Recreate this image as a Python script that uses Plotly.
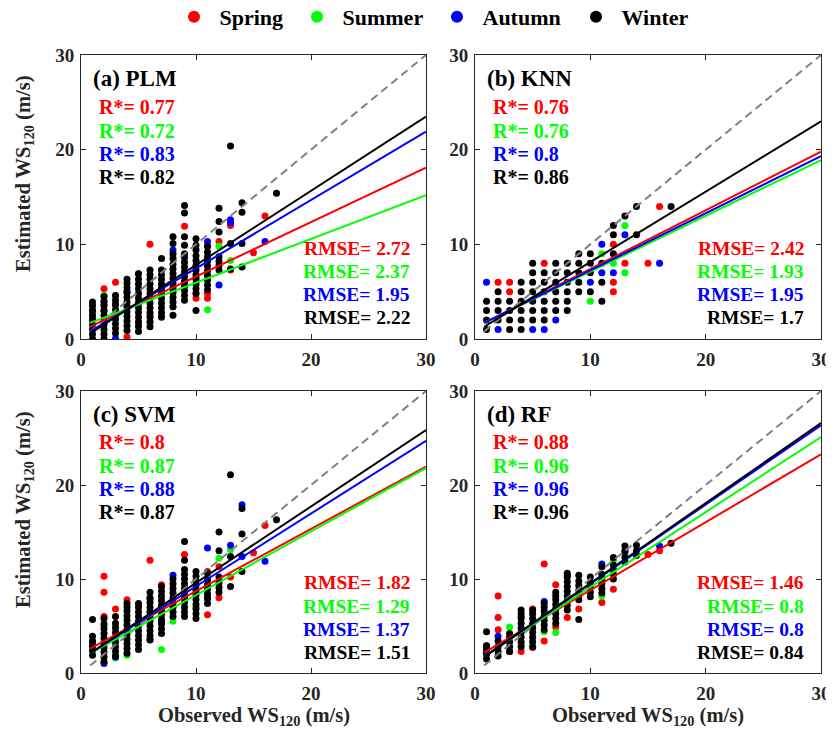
import plotly.graph_objects as go

# ---------------- data ----------------
seasons = ["Spring", "Summer", "Autumn", "Winter"]
season_colors = ["#ff0000", "#00ff00", "#0000ff", "#000000"]
panel_titles = ["(a) PLM", "(b) KNN", "(c) SVM", "(d) RF"]

r_values = [[0.77, 0.72, 0.83, 0.82],
            [0.76, 0.76, 0.8, 0.86],
            [0.8, 0.87, 0.88, 0.87],
            [0.88, 0.96, 0.96, 0.96]]
rmse_values = [[2.72, 2.37, 1.95, 2.22],
               [2.42, 1.93, 1.95, 1.7],
               [1.82, 1.29, 1.37, 1.51],
               [1.46, 0.8, 0.8, 0.84]]

# regression lines (slope, intercept) per panel, per season
fit_slopes = [[0.575, 0.462, 0.723, 0.784],
              [0.620, 0.589, 0.603, 0.743],
              [0.663, 0.675, 0.774, 0.813],
              [0.723, 0.799, 0.844, 0.852]]
fit_intercepts = [[0.84, 1.33, 0.22, -0.03],
                  [1.20, 1.23, 1.22, 0.70],
                  [2.07, 1.56, 1.48, 1.45],
                  [1.58, 1.14, 1.04, 1.03]]
fit_x_range = [0.8, 30]
one_to_one = [0.8, 30]

# ---- (a) PLM ----
plm_spring_obs = [1, 2, 3, 4, 5, 6, 7, 9, 10, 11, 12, 13, 15, 16]
plm_spring_est = [[2.2], [5.3, 3.0], [6.0], [0.2, 3.5], [6.9, 1.5], [10.0, 2.5], [2.5, 5.0],
                  [11.9, 6.0], [4.8, 4.3, 6.5], [9.8, 4.8, 4.3], [10.3], [12.0, 7.3], [9.1], [13.0]]
plm_summer_obs = [1, 2, 3, 5, 6, 8, 9, 10, 11, 12, 13]
plm_summer_est = [[2.6], [4.6], [4.6], [4.0], [1.8], [3.4], [5.5], [5.8], [3.1], [9.8], [8.3]]
plm_autumn_obs = [1, 2, 3, 4, 7, 8, 11, 12, 13, 16]
plm_autumn_est = [[3.0], [3.8], [0.05, 3.7], [5.0], [5.5], [9.4], [10.3], [5.7], [12.6, 12.3], [10.3]]
plm_winter_obs = [1, 2, 3, 4, 5, 6, 7, 8, 9, 10, 11, 12, 13, 14, 17]
plm_winter_est = [
    [0.0, 0.5, 1.0, 1.5, 2.0, 2.5, 3.0, 3.5, 3.9],
    [0.0, 0.5, 1.0, 1.5, 2.0, 2.5, 3.0, 3.5, 4.0, 4.5],
    [0.6, 1.1, 1.6, 2.1, 2.6, 3.1, 3.6, 4.1, 4.6],
    [0.9, 1.4, 1.9, 2.4, 2.9, 3.4, 3.9, 4.4, 4.9, 5.4, 5.9, 6.3],
    [0.8, 1.3, 1.8, 2.3, 2.8, 3.3, 3.8, 4.3, 4.8, 5.3, 5.8, 6.3, 6.9],
    [1.3, 1.8, 2.3, 2.8, 3.3, 3.8, 4.3, 4.8, 5.3, 5.8, 6.3, 6.8, 7.3],
    [2.3, 2.8, 3.3, 3.8, 4.3, 4.8, 5.3, 5.8, 6.3, 6.8, 7.3, 8.5],
    [2.5, 3.4, 3.9, 4.4, 4.9, 5.4, 5.9, 6.4, 6.9, 7.4, 7.9, 8.5, 9.0, 10.1, 10.8],
    [4.1, 4.6, 5.1, 5.6, 6.1, 6.6, 7.1, 7.6, 8.1, 8.6, 9.0, 9.9, 10.8, 13.3, 14.1],
    [3.0, 4.8, 5.3, 5.8, 6.3, 6.8, 7.3, 7.8, 8.3, 8.8, 9.4, 9.9, 10.6],
    [5.2, 5.7, 6.2, 6.7, 7.2, 7.7, 8.2, 8.7, 9.2, 9.8],
    [7.3, 7.8, 8.2, 8.7, 11.3, 12.4, 13.8],
    [7.4, 10.1, 20.4],
    [7.6, 10.1, 13.4, 14.4],
    [15.4]]

# ---- (b) KNN ----
knn_spring_obs = [2, 3, 6, 12, 13, 15, 16]
knn_spring_est = [[6], [5, 6], [8], [5, 6, 10], [8], [8], [14]]
knn_summer_obs = [10, 11, 12, 13]
knn_summer_est = [[4], [9], [8], [7, 12]]
knn_autumn_obs = [1, 2, 5, 6, 7, 10, 11, 12, 13, 16]
knn_autumn_est = [[6], [1], [1], [1], [2], [6], [7, 10], [7], [11], [8]]
knn_winter_obs = [1, 2, 3, 4, 5, 6, 7, 8, 9, 10, 11, 12, 13, 14, 17]
knn_winter_est = [
    [1, 2, 3, 4],
    [2, 3, 4, 5],
    [1, 2, 3, 4],
    [1, 2, 3, 4, 5, 6],
    [2, 3, 4, 5, 6, 7, 8],
    [2, 3, 4, 5, 6, 7],
    [3, 4, 5, 6, 7, 8],
    [3, 4, 5, 6, 7, 8],
    [5, 6, 7, 8, 9],
    [5, 7, 8, 9],
    [4, 6, 8],
    [9, 11, 12],
    [13],
    [11, 14],
    [14]]

# ---- (c) SVM ----
svm_spring_obs = [1, 2, 3, 4, 6, 7, 9, 11, 12, 13, 15, 16]
svm_spring_est = [[2.8], [10.3, 8.6, 6.0], [6.8], [7.8], [12.0], [9.4], [12.6], [10.8, 6.2],
                  [11.3, 8.0], [10.2], [12.8], [15.7]]
svm_summer_obs = [2, 3, 4, 6, 7, 8, 10, 12, 13]
svm_summer_est = [[5.0], [5.1, 1.6], [1.9], [6.5], [2.5], [5.5], [7.0], [12.2], [13.1]]
svm_autumn_obs = [1, 2, 3, 6, 7, 8, 11, 13, 14, 16]
svm_autumn_est = [[3.3], [1.0], [1.7], [7.9, 3.6], [5.5], [10.4], [13.3, 8.0], [13.6],
                  [17.9, 12.4], [11.9]]
svm_winter_obs = [1, 2, 3, 4, 5, 6, 7, 8, 9, 10, 11, 12, 13, 14, 17]
svm_winter_est = [
    [1.9, 2.4, 2.9, 3.4, 3.9, 5.7],
    [1.2, 1.7, 2.2, 2.7, 3.2, 3.7, 4.2, 4.7, 5.2, 5.8],
    [1.8, 2.3, 2.8, 3.3, 3.8, 4.3, 4.8, 5.3, 6.0],
    [2.1, 2.6, 3.1, 3.6, 4.1, 4.6, 5.1, 5.6, 6.1, 6.6, 7.0, 7.4],
    [2.5, 3.0, 3.5, 4.0, 4.5, 5.0, 5.5, 6.0, 6.5, 7.0, 7.4],
    [3.5, 4.0, 4.5, 5.0, 5.5, 6.0, 6.5, 7.0, 7.5, 8.0, 8.6],
    [4.2, 4.7, 5.2, 5.7, 6.2, 6.7, 7.2, 7.7, 8.2, 8.7, 9.2],
    [6.0, 6.5, 7.0, 7.5, 8.0, 8.5, 9.0, 9.5, 10.0],
    [6.0, 6.5, 7.0, 7.5, 8.0, 8.5, 9.0, 9.5, 10.0, 10.5, 11.0, 12.0, 14.0],
    [5.8, 6.3, 6.8, 7.3, 7.8, 8.3, 8.8, 9.3, 9.8, 10.3, 10.8],
    [7.4, 7.9, 8.4, 8.9, 9.4, 9.9, 10.6],
    [8.6, 9.1, 9.6, 10.2, 13.0, 15.0],
    [9.2, 12.4, 21.1],
    [10.8, 14.8, 17.5],
    [16.3]]

# ---- (d) RF ----
rf_spring_obs = [1, 2, 3, 4, 5, 6, 7, 8, 9, 11, 12, 15, 16]
rf_spring_est = [[2.9], [8.2, 5.9, 4.6], [2.3], [2.3], [2.7, 6.8], [11.6, 3.4], [9.4, 4.9],
                 [5.9], [6.8], [7.5], [8.9], [12.6], [13.0]]
rf_summer_obs = [3, 4, 6, 7, 11, 12, 13]
rf_summer_est = [[4.9], [3.0], [4.4], [4.3], [8.2], [12.0], [12.6]]
rf_autumn_obs = [1, 2, 4, 6, 8, 11, 13, 16]
rf_autumn_est = [[2.2], [3.9], [6.0], [7.6], [10.4], [11.6], [12.9], [13.5]]
rf_winter_obs = [1, 2, 3, 4, 5, 6, 7, 8, 9, 10, 11, 12, 13, 14, 17]
rf_winter_est = [
    [1.5, 2.0, 2.5, 2.9, 4.4],
    [1.8, 2.3, 2.8, 3.4],
    [2.3, 2.8, 3.3, 3.8, 4.2],
    [2.8, 3.3, 3.8, 4.3, 4.8, 5.3, 5.8, 6.3, 6.7],
    [2.8, 3.3, 3.8, 4.3, 4.8, 5.3, 5.8, 6.3, 6.7],
    [4.6, 5.1, 5.6, 6.1, 6.6, 7.0, 7.4],
    [5.3, 5.8, 6.3, 6.8, 7.3, 7.8, 8.2, 8.6],
    [6.7, 7.2, 7.7, 8.2, 8.7, 9.2, 9.7, 10.2, 10.6],
    [5.7, 7.8, 8.3, 8.8, 9.3, 9.8, 10.4],
    [8.1, 8.6, 9.1, 9.6, 10.2],
    [8.5, 9.0, 9.5, 10.0, 10.5, 11.3],
    [10.0, 10.5, 11.0, 11.5, 12.3],
    [11.8, 12.3, 13.0, 13.5],
    [12.5, 13.0, 13.6],
    [13.8]]

panel_data = [
    [(plm_spring_obs, plm_spring_est), (plm_summer_obs, plm_summer_est),
     (plm_autumn_obs, plm_autumn_est), (plm_winter_obs, plm_winter_est)],
    [(knn_spring_obs, knn_spring_est), (knn_summer_obs, knn_summer_est),
     (knn_autumn_obs, knn_autumn_est), (knn_winter_obs, knn_winter_est)],
    [(svm_spring_obs, svm_spring_est), (svm_summer_obs, svm_summer_est),
     (svm_autumn_obs, svm_autumn_est), (svm_winter_obs, svm_winter_est)],
    [(rf_spring_obs, rf_spring_est), (rf_summer_obs, rf_summer_est),
     (rf_autumn_obs, rf_autumn_est), (rf_winter_obs, rf_winter_est)],
]

axis_ticks = [0, 10, 20, 30]

# ---------------- figure ----------------
FONT = "Liberation Serif, Times New Roman, serif"
# the page body adds an 8px offset, so the figure canvas is 826x736
W, H = 826, 736

x_domains = [[73 / W, 418 / W], [467 / W, 813 / W]]
y_domains = [[1 - 331 / H, 1 - 47 / H], [1 - 665 / H, 1 - 383 / H]]
legend_names = ["legend", "legend2", "legend3", "legend4"]
legend_marker_px = [192, 315, 455, 594]

fig = go.Figure()

for p in range(4):
    row, col = divmod(p, 2)
    ax = "" if p == 0 else str(p + 1)
    xa, ya = "x" + ax, "y" + ax
    for s in range(4):
        obs, est = panel_data[p][s]
        xs, ys = [], []
        for o, col_vals in zip(obs, est):
            for v in col_vals:
                xs.append(o)
                ys.append(v)
        fig.add_trace(go.Scatter(
            x=xs, y=ys, mode="markers", xaxis=xa, yaxis=ya,
            marker=dict(color=season_colors[s], size=7, line=dict(width=0)),
            name="\u00a0" + seasons[s], legendgroup=seasons[s], showlegend=(p == 0),
            legend=legend_names[s]))
    fig.add_trace(go.Scatter(
        x=one_to_one, y=one_to_one, mode="lines", xaxis=xa, yaxis=ya,
        line=dict(color="#808080", width=2, dash="8px,5px"), showlegend=False))
    for s in range(4):
        xl = fit_x_range
        yl = [fit_intercepts[p][s] + fit_slopes[p][s] * v for v in xl]
        fig.add_trace(go.Scatter(
            x=xl, y=yl, mode="lines", xaxis=xa, yaxis=ya,
            line=dict(color=season_colors[s], width=2), showlegend=False))

    axis_common = dict(range=[0, 30], tickvals=axis_ticks, ticks="inside", ticklen=5,
                       tickcolor="#262626", showline=True, linecolor="#262626",
                       linewidth=1, mirror="ticks", showgrid=False, zeroline=False,
                       automargin=False,
                       tickfont=dict(family=FONT, size=19, color="#262626", weight="bold"),
                       fixedrange=True)
    fig.update_layout(**{
        ("xaxis" + ax): dict(domain=x_domains[col], anchor=ya, ticklabelstandoff=3,
                             **axis_common),
        ("yaxis" + ax): dict(domain=y_domains[row], anchor=xa, ticklabelstandoff=2,
                             **axis_common),
    })

    xref, yref = xa + " domain", ya + " domain"
    fig.add_annotation(text=panel_titles[p], xref=xref, yref=yref, x=0.03, y=0.918,
                       xanchor="left", yanchor="middle", showarrow=False,
                       font=dict(family=FONT, size=23, color="#000000", weight="bold"))
    r_ys = [0.818, 0.733, 0.651, 0.571]
    rmse_ys = [0.320, 0.236, 0.155, 0.074]
    for s in range(4):
        fig.add_annotation(text="R*= " + str(r_values[p][s]), xref=xref, yref=yref,
                           x=0.045, y=r_ys[s], xanchor="left", yanchor="middle",
                           showarrow=False,
                           font=dict(family=FONT, size=20, color=season_colors[s], weight="bold"))
        fig.add_annotation(text="RMSE= " + str(rmse_values[p][s]), xref=xref, yref=yref,
                           x=0.958, y=rmse_ys[s], xanchor="right", yanchor="middle",
                           showarrow=False,
                           font=dict(family=FONT, size=19.5, color=season_colors[s], weight="bold"))

# axis titles
for row in range(2):
    yc = [166, 502][row]
    fig.add_annotation(text="Estimated WS<sub>120</sub> (m/s)", xref="paper", yref="paper",
                       x=16 / W, y=1 - yc / H, xanchor="center", yanchor="middle",
                       textangle=-90, showarrow=False,
                       font=dict(family=FONT, size=20.5, color="#262626", weight="bold"))
for col in range(2):
    xc = [245.5, 640][col]
    fig.add_annotation(text="Observed WS<sub>120</sub> (m/s)", xref="paper", yref="paper",
                       x=xc / W, y=1 - 708 / H, xanchor="center", yanchor="middle",
                       showarrow=False,
                       font=dict(family=FONT, size=20.5, color="#262626", weight="bold"))

legend_style = dict(orientation="h", xanchor="left", y=1 + 12 / H, yanchor="top",
                    font=dict(family=FONT, size=22, color="#000000", weight="bold"),
                    itemsizing="constant", bgcolor="rgba(0,0,0,0)")
layout_legends = {}
for s in range(4):
    layout_legends[legend_names[s]] = dict(x=(legend_marker_px[s] - 26) / W, **legend_style)

fig.update_layout(
    width=W, height=H, margin=dict(l=0, r=0, t=0, b=0, autoexpand=False),
    paper_bgcolor="white", plot_bgcolor="white",
    **layout_legends,
)

fig.write_html("out.html")
